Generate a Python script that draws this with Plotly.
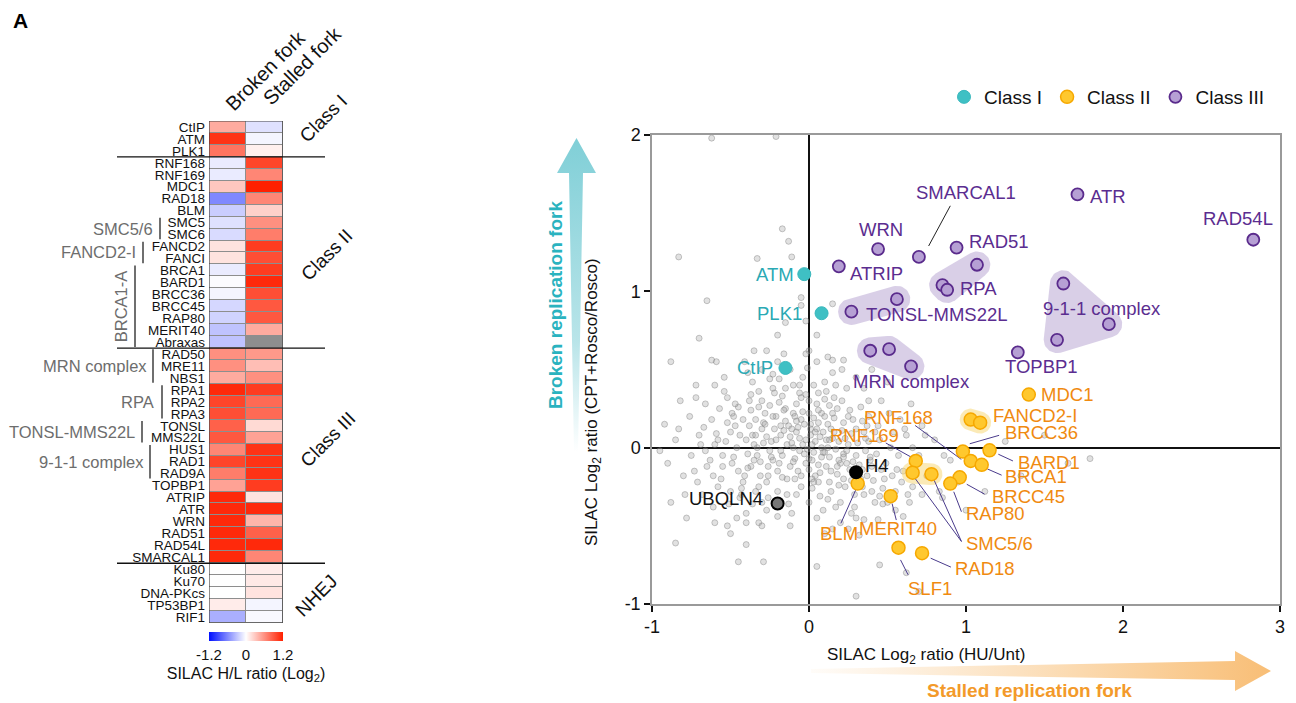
import numpy as np
import plotly.graph_objects as go

# page body has an 8px margin: figure is drawn at (8,8); positions below are given in
# window pixels and converted with px()/py()
OFF = 8
WF, HF = 1296 - OFF, 703 - OFF
FONT = "Arial, 'Liberation Sans', sans-serif"


def px(x):
    return (x - OFF) / WF


def py(y):
    return 1 - (y - OFF) / HF


# ---------------- Heatmap data (SILAC H/L ratio, log2) ----------------
hm_rows = ["CtIP", "ATM", "PLK1",
           "RNF168", "RNF169", "MDC1", "RAD18", "BLM", "SMC5", "SMC6", "FANCD2", "FANCI",
           "BRCA1", "BARD1", "BRCC36", "BRCC45", "RAP80", "MERIT40", "Abraxas",
           "RAD50", "MRE11", "NBS1", "RPA1", "RPA2", "RPA3", "TONSL", "MMS22L", "HUS1",
           "RAD1", "RAD9A", "TOPBP1", "ATRIP", "ATR", "WRN", "RAD51", "RAD54L", "SMARCAL1",
           "Ku80", "Ku70", "DNA-PKcs", "TP53BP1", "RIF1"]
hm_broken = [0.45, 1.10, 0.75,
             -0.10, -0.10, 0.30, -0.60, -0.25, -0.15, -0.18, 0.15, 0.15,
             -0.10, -0.02, -0.05, -0.20, -0.22, -0.30, -0.30,
             0.60, 0.60, 0.45, 1.15, 1.00, 0.95, 0.85, 0.90, 0.65,
             1.00, 0.70, 0.50, 1.15, 1.15, 1.15, 1.15, 1.15, 1.15,
             0.00, 0.00, 0.00, 0.10, -0.40]
hm_stalled = [-0.15, -0.05, 0.08,
              1.00, 0.65, 1.20, 0.65, 0.25, 0.60, 0.70, 1.05, 0.95,
              1.05, 1.15, 0.95, 0.90, 0.90, 0.45, None,
              0.55, 0.35, 0.60, 1.05, 0.80, 0.80, 0.20, 0.50, 1.10,
              1.10, 1.10, 1.05, 0.15, 1.15, 0.40, 0.85, 1.15, 0.65,
              0.10, 0.12, 0.15, -0.05, -0.03]
hm_cols = ["Broken fork", "Stalled fork"]
hm_classes = ["Class I", "Class II", "Class III", "NHEJ"]
hm_class_bounds = [2.5, 18.5, 36.5]
hm_brackets = [("SMC5/6", "SMC5", "SMC6"), ("FANCD2-I", "FANCD2", "FANCI"),
               ("BRCA1-A", "BRCA1", "Abraxas"), ("MRN complex", "RAD50", "NBS1"),
               ("RPA", "RPA1", "RPA3"), ("TONSL-MMS22L", "TONSL", "MMS22L"),
               ("9-1-1 complex", "HUS1", "RAD9A")]

# ---------------- Scatter data (SILAC log2 ratios) ----------------
c1_names = ["ATM", "PLK1", "CtIP"]
c1_x = [-0.03, 0.08, -0.15]
c1_y = [1.11, 0.86, 0.51]

c2_names = ["MDC1", "FANCD2", "FANCI", "BRCC36", "BARD1", "RNF168", "BRCA1", "RNF169",
            "SMC5", "SMC6", "BRCC45", "RAP80", "BLM", "MERIT40", "SLF1", "RAD18"]
c2_x = [1.40, 1.03, 1.09, 0.98, 1.15, 1.03, 1.10, 0.68, 0.66, 0.78, 0.96, 0.90, 0.31, 0.52, 0.57, 0.72]
c2_y = [0.34, 0.18, 0.16, -0.025, -0.017, -0.085, -0.11, -0.085, -0.16, -0.17, -0.19, -0.23,
        -0.23, -0.31, -0.64, -0.675]

c3_names = ["ATR", "RAD54L", "WRN", "SMARCAL1", "RAD51", "ATRIP", "RPA1", "RPA2", "RPA3",
            "TONSL", "MMS22L", "HUS1", "RAD1", "RAD9A", "TOPBP1", "RAD50", "MRE11", "NBS1"]
c3_x = [1.71, 2.83, 0.44, 0.70, 0.94, 0.19, 1.07, 0.85, 0.88, 0.56, 0.27, 1.62, 1.91, 1.58, 1.33, 0.39, 0.51, 0.65]
c3_y = [1.62, 1.33, 1.27, 1.22, 1.28, 1.16, 1.17, 1.04, 1.01, 0.95, 0.87, 1.05, 0.79, 0.69, 0.61, 0.62, 0.63, 0.52]

ctrl_names = ["H4", "UBQLN4"]
ctrl_x = [0.30, -0.20]
ctrl_y = [-0.157, -0.357]

purple_groups = [["RPA1", "RPA2", "RPA3"], ["TONSL", "MMS22L"], ["HUS1", "RAD1", "RAD9A"],
                 ["RAD50", "MRE11", "NBS1"]]
yellow_groups = [["FANCD2", "FANCI"], ["SMC5", "SMC6"]]

# background proteome (approximate cloud)
bg_x = [-0.02, 0.05, -0.10, 0.10, -0.18, 0.02, -0.05, 0.15, -0.25, 0.08, -0.12, 0.20, -0.30, 0.00, -0.08,
        0.12, -0.20, 0.25, -0.35, 0.04, -0.15, 0.18, -0.40, 0.30, -0.28, 0.06, -0.05, 0.22, -0.45, 0.35,
        -0.22, 0.14, -0.32, 0.28, -0.50, 0.40, -0.10, 0.10, -0.38, 0.45, -0.55, 0.02, -0.03, 0.07, -0.13,
        0.17, -0.07, 0.11, -0.24, 0.03, -0.17, 0.21, -0.33, 0.26, -0.42, 0.33, -0.60, 0.48, -0.26, 0.16,
        -0.48, 0.38, -0.65, 0.52, -0.12, 0.00, -0.36, 0.24, -0.58, 0.55, -0.20, 0.09, -0.70, 0.60, -0.30,
        0.30, -0.75, 0.42, -0.52, 0.05, -0.62, 0.62, -0.80, 0.34, -0.44, 0.20, -0.16, -0.04, -0.68, 0.66,
        -0.85, 0.70, -0.27, 0.12, -0.54, 0.46, -0.90, 0.75, -0.40, 0.27, -0.08, 0.19, -0.29, 0.13, -0.37,
        0.36, -0.46, -0.14, 0.01, -0.21, -0.09, 0.08, -0.31, 0.23, -0.49, 0.44, -0.57, 0.58, -0.19, 0.06,
        -0.01, 0.04, -0.06, 0.09, -0.11, 0.13, -0.16, 0.16, -0.23, 0.06, -0.04, 0.22, -0.27, 0.00, -0.19,
        0.27, -0.34, 0.10, -0.09, 0.18, -0.39, 0.31, -0.25, 0.03, -0.14, 0.29, -0.47, 0.39, -0.32, 0.21,
        -0.43, 0.12, -0.53, 0.49, -0.06, 0.15, -0.36, 0.37, -0.61, 0.57, -0.23, -0.01, -0.51, 0.47, -0.66,
        0.51, -0.73, 0.64, -0.41, 0.35,
        -0.44, -0.38, -0.33, -0.29, -0.26, -0.22, -0.18, -0.15, -0.12, -0.10,
        -0.07, -0.04, -0.02, 0.01, 0.03, 0.06, 0.08, 0.11, 0.14, 0.16,
        0.19, 0.22, 0.24, 0.27, 0.30, 0.32, 0.35, 0.38, 0.41, 0.43,
        -0.48, -0.52, -0.56, -0.59, -0.63, -0.67, -0.71, -0.45, -0.41, -0.37,
        -0.34, -0.30, -0.27, -0.23, -0.20, -0.17, -0.13, -0.10, -0.08, -0.05,
        0.00, 0.02, 0.05, 0.07, 0.10, 0.13, 0.17, 0.20, 0.26, 0.29,
        0.34, 0.40, 0.46, 0.50, 0.54, 0.59, -0.50, -0.54, -0.61, -0.69,
        -0.76, -0.79, -0.83, -0.46, -0.32, -0.12, 0.15, 0.32, 0.44, 0.60,
        -0.39, -0.20, 0.00, 0.21, 0.38, 0.66, 0.72, 0.80, 0.86, 0.95,
        -0.35, -0.31, -0.28, -0.24, -0.21, -0.17, -0.14, -0.11, -0.06, -0.03,
        0.00, 0.04, 0.07, 0.12, 0.15, 0.18, 0.23, 0.28, 0.33, 0.37,
        -0.42, -0.39, -0.36, -0.32, -0.27, -0.23, -0.19, -0.15, -0.09, -0.05,
        -0.02, 0.02, 0.06, 0.09, 0.14, 0.19, 0.25, 0.31, 0.39, 0.45,
        -0.58, -0.49, -0.43, -0.37, -0.30, -0.25, -0.18, -0.11, -0.06, 0.01,
        0.05, 0.11, 0.17, 0.24, 0.30, 0.36, 0.42, 0.53, 0.61, 0.68,
        -0.66, -0.55, -0.47, -0.40, -0.34, -0.26, -0.16, -0.08, 0.03, 0.13,
        0.22, 0.34, 0.47, 0.56, -0.72, -0.60, -0.52, 0.63, 0.74, 0.83,
        -0.62, -0.21, -0.17, -0.13, -0.83, -0.33, -0.11, -0.65, -0.05, -0.05, 0.15, -0.02, -0.35, -0.62,
        -0.59, -0.02, 0.15, 0.22, -0.85, -0.45, -0.29, 0.05, 0.30, 1.79,
        -0.95, -0.92, -0.88, -0.82, -0.78, -0.72, -0.60, -0.50, -0.40, -0.30, -0.20, -0.15, 0.05, 0.10,
        0.25, 0.35, 0.40, 0.50, 0.55, 0.65, 0.72, 0.80, 0.85, 0.90, 1.00, 1.12, 1.25, 1.35, 1.50, 1.65,
        0.70, 0.62, 0.45, -0.70, -0.88]
bg_y = [0.05, 0.12, 0.00, -0.03, 0.08, -0.08, 0.18, 0.06, -0.02, 0.22, -0.12, -0.10, 0.12, 0.30, 0.10,
        0.15, -0.15, 0.02, -0.08, -0.18, 0.25, 0.25, 0.05, -0.05, 0.22, 0.35, -0.25, -0.20, -0.15, 0.10,
        0.35, -0.28, -0.25, 0.18, 0.10, -0.12, 0.40, 0.42, 0.30, 0.05, -0.05, 0.02, -0.04, 0.07, 0.14,
        -0.01, -0.15, -0.12, 0.04, 0.19, -0.05, 0.11, 0.00, -0.14, -0.22, 0.26, 0.02, -0.20, -0.32, 0.32,
        0.20, 0.20, -0.12, 0.00, 0.50, -0.35, 0.42, 0.38, -0.25, -0.28, -0.28, -0.40, 0.08, -0.15, 0.50,
        0.45, -0.05, -0.35, 0.32, 0.55, 0.18, 0.08, -0.18, -0.25, -0.32, -0.35, 0.60, 0.45, -0.30, -0.25,
        0.05, -0.05, 0.62, 0.58, 0.45, 0.30, -0.10, -0.18, -0.42, -0.42, 0.28, 0.04, 0.16, 0.27, -0.12,
        -0.02, 0.00, -0.20, 0.12, 0.20, -0.07, 0.00, -0.18, -0.25, -0.10, 0.14, 0.25, 0.18, 0.44, -0.22,
        -0.01, 0.04, 0.06, 0.10, 0.03, -0.06, 0.11, 0.19, -0.08, -0.11, 0.23, -0.04, 0.07, -0.14, 0.29,
        0.09, 0.18, 0.31, -0.20, -0.17, -0.04, 0.03, 0.27, 0.40, -0.30, -0.30, 0.14, -0.08, 0.36, 0.30,
        -0.26, -0.33, 0.04, -0.10, 0.35, 0.48, -0.36, -0.18, -0.18, -0.05, 0.47, 0.51, -0.36, -0.26, 0.28,
        0.22, -0.15, -0.35, 0.55, 0.38,
        0.08, 0.14, -0.05, 0.03, -0.12, 0.12, -0.02, 0.17, 0.07, -0.09,
        0.13, 0.02, -0.10, 0.08, -0.03, 0.16, -0.06, 0.05, -0.15, 0.10,
        -0.08, 0.16, -0.02, -0.21, 0.12, -0.11, -0.30, 0.04, -0.21, -0.04,
        -0.06, 0.16, -0.20, 0.09, -0.08, 0.13, -0.22, 0.26, -0.18, 0.24,
        -0.28, 0.30, -0.40, 0.38, -0.44, 0.33, -0.36, 0.22, -0.30, 0.32,
        0.22, -0.26, 0.28, -0.31, 0.20, -0.22, 0.40, -0.48, 0.24, -0.38,
        0.17, -0.28, -0.14, -0.35, 0.10, -0.22, -0.28, 0.36, -0.38, 0.02,
        0.20, -0.30, 0.12, -0.45, -0.48, -0.50, -0.52, -0.56, -0.46, -0.44,
        0.48, 0.55, 0.62, 0.50, 0.30, 0.00, -0.30, -0.18, -0.05, -0.22,
        0.02, -0.09, 0.15, -0.06, 0.05, -0.19, 0.02, 0.12, -0.02, 0.15,
        -0.07, 0.10, -0.16, 0.00, 0.22, -0.12, 0.06, -0.09, -0.20, 0.14,
        0.18, -0.13, 0.08, 0.26, -0.22, 0.20, -0.10, 0.38, 0.20, -0.18,
        0.34, -0.20, 0.24, -0.03, 0.12, -0.24, 0.20, -0.16, -0.06, -0.31,
        0.05, 0.22, -0.30, 0.34, -0.35, 0.44, 0.14, -0.42, 0.40, 0.15,
        -0.45, 0.36, -0.38, -0.10, -0.45, 0.06, 0.10, -0.18, 0.12, -0.10,
        -0.02, -0.12, 0.28, -0.48, 0.08, -0.18, 0.24, 0.17, -0.22, 0.05,
        -0.06, -0.14, -0.36, -0.14, 0.32, 0.40, -0.50, -0.30, 0.08, -0.28,
        1.98, 1.99, 1.40, 1.32, 1.22, 1.21, 1.22, 0.94, 0.96, 0.91, 0.92, 0.81, 0.62, 0.56,
        0.55, 0.60, 0.56, 0.56, -0.61, -0.73, -0.73, -0.76, -0.95, -0.07,
        -0.02, 0.15, -0.35, 0.30, -0.45, 0.40, -0.48, -0.55, -0.62, -0.50, 0.72, 0.80, 0.72, -0.55,
        -0.52, -0.46, 0.50, 0.42, -0.40, 0.28, 0.14, 0.05, -0.32, -0.08, -0.40, -0.28, 0.04, -0.18, 0.08, -0.10,
        -0.92, -0.80, -0.75, 0.70, 0.55]

# ---------------- label placement (layout) ----------------
P, O, T, K = "#5b2d90", "#f08a10", "#2aa9b4", "#111111"
labels = [("SMARCAL1", 0.997, 1.632, "center", P), ("ATR", 1.778, 1.604, "left", P),
          ("RAD54L", 2.735, 1.468, "center", P), ("WRN", 0.457, 1.394, "center", P),
          ("RAD51", 1.005, 1.32, "left", P), ("ATRIP", 0.249, 1.115, "left", P),
          ("RPA", 0.952, 1.015, "left", P), ("TONSL-MMS22L", 0.35, 0.855, "left", P),
          ("9-1-1 complex", 1.866, 0.891, "center", P), ("TOPBP1", 1.479, 0.52, "center", P),
          ("MRN complex", 0.65, 0.425, "center", P),
          ("ATM", -0.085, 1.106, "right", T), ("PLK1", -0.03, 0.86, "right", T),
          ("CtIP", -0.215, 0.51, "right", T),
          ("MDC1", 1.465, 0.34, "left", O), ("FANCD2-I", 1.158, 0.206, "left", O),
          ("BRCC36", 1.238, 0.096, "left", O), ("RNF168", 0.57, 0.19, "center", O),
          ("RNF169", 0.356, 0.079, "center", O), ("BARD1", 1.318, -0.098, "left", O),
          ("BRCA1", 1.238, -0.187, "left", O), ("BRCC45", 1.152, -0.31, "left", O),
          ("RAP80", 0.99, -0.42, "left", O), ("SMC5/6", 0.99, -0.614, "left", O),
          ("BLM", 0.19, -0.552, "center", O), ("MERIT40", 0.57, -0.516, "center", O),
          ("RAD18", 0.917, -0.77, "left", O), ("SLF1", 0.77, -0.90, "center", O),
          ("H4", 0.342, -0.117, "left", K), ("UBQLN4", -0.278, -0.325, "right", K)]
connectors = [(0.489, 0.030, 0.65, -0.06), (0.676, 0.142, 0.97, -0.075), (1.024, 0.025, 1.211, 0.079),
              (1.206, -0.042, 1.299, -0.085), (1.136, -0.136, 1.227, -0.176),
              (1.005, -0.234, 1.118, -0.297), (0.922, -0.282, 0.971, -0.41),
              (0.676, -0.197, 0.971, -0.60), (0.797, -0.208, 0.971, -0.60),
              (0.297, -0.272, 0.203, -0.484), (0.529, -0.357, 0.556, -0.463),
              (0.583, -0.718, 0.631, -0.813), (0.775, -0.707, 0.904, -0.764)]
smarcal_connector = (0.90, 1.547, 0.762, 1.29)


def blob(xs, ys, r, n=48):
    t = np.linspace(0, 2 * np.pi, n, endpoint=False)
    pts = set()
    for x, y in zip(xs, ys):
        for a in t:
            pts.add((round(x + r * np.cos(a), 5), round(y + r * np.sin(a), 5)))
    pts = sorted(pts)

    def cross(o, a, b):
        return (a[0] - o[0]) * (b[1] - o[1]) - (a[1] - o[1]) * (b[0] - o[0])
    lower, upper = [], []
    for p in pts:
        while len(lower) >= 2 and cross(lower[-2], lower[-1], p) <= 0:
            lower.pop()
        lower.append(p)
    for p in reversed(pts):
        while len(upper) >= 2 and cross(upper[-2], upper[-1], p) <= 0:
            upper.pop()
        upper.append(p)
    hull = lower[:-1] + upper[:-1]
    hull.append(hull[0])
    return [p[0] for p in hull], [p[1] for p in hull]


fig = go.Figure()

fig.add_trace(go.Scatter(x=bg_x, y=bg_y, mode="markers", showlegend=False, hoverinfo="skip",
                         marker=dict(size=6, color="rgba(165,165,165,0.33)",
                                     line=dict(color="rgba(120,120,120,0.50)", width=0.8))))

for grp in purple_groups:
    xs = [c3_x[c3_names.index(n)] for n in grp]
    ys = [c3_y[c3_names.index(n)] for n in grp]
    bx, by = blob(xs, ys, 0.085)
    fig.add_trace(go.Scatter(x=bx, y=by, mode="lines", fill="toself", line=dict(width=0),
                             fillcolor="rgba(180,160,208,0.50)", showlegend=False, hoverinfo="skip"))
for grp in yellow_groups:
    xs = [c2_x[c2_names.index(n)] for n in grp]
    ys = [c2_y[c2_names.index(n)] for n in grp]
    bx, by = blob(xs, ys, 0.07)
    fig.add_trace(go.Scatter(x=bx, y=by, mode="lines", fill="toself", line=dict(width=0),
                             fillcolor="rgba(248,214,110,0.50)", showlegend=False, hoverinfo="skip"))

cx, cy = [], []
for x0, y0, x1, y1 in connectors:
    cx += [x0, x1, None]
    cy += [y0, y1, None]
fig.add_trace(go.Scatter(x=cx, y=cy, mode="lines", line=dict(color="#4a3b8c", width=1),
                         showlegend=False, hoverinfo="skip"))
fig.add_trace(go.Scatter(x=[smarcal_connector[0], smarcal_connector[2]],
                         y=[smarcal_connector[1], smarcal_connector[3]], mode="lines",
                         line=dict(color="#222", width=1), showlegend=False, hoverinfo="skip"))

fig.add_trace(go.Scatter(x=c1_x, y=c1_y, mode="markers", name="Class I", text=c1_names,
                         marker=dict(size=13, color="#3fc0c4", line=dict(color="#3ab8bd", width=1))))
fig.add_trace(go.Scatter(x=c2_x, y=c2_y, mode="markers", name="Class II", text=c2_names,
                         marker=dict(size=13, color="#ffc82e", line=dict(color="#f6a800", width=1.5))))
fig.add_trace(go.Scatter(x=c3_x, y=c3_y, mode="markers", name="Class III", text=c3_names,
                         marker=dict(size=12, color="#b6a0d4", line=dict(color="#5a2b8c", width=1.8))))
fig.add_trace(go.Scatter(x=ctrl_x, y=ctrl_y, mode="markers", showlegend=False, text=ctrl_names,
                         marker=dict(size=12, color=["#000000", "#777777"],
                                     line=dict(color="#000000", width=2))))

for txt, x, y, anc, col in labels:
    fig.add_annotation(x=x, y=y, xref="x", yref="y", text=txt, showarrow=False, xanchor=anc,
                       yanchor="middle", font=dict(size=18.5, color=col, family=FONT))

# ---------------- heatmap ----------------
z = [[b, s] for b, s in zip(hm_broken, hm_stalled)]
nrows = len(hm_rows)
fig.add_trace(go.Heatmap(
    z=z, x=[0, 1], y=list(range(nrows)), xaxis="x2", yaxis="y2", zmin=-1.2, zmax=1.2,
    colorscale=[[0, "#0010ff"], [0.5, "#ffffff"], [1, "#ff2000"]], xgap=1, ygap=1,
    hoverinfo="skip",
    colorbar=dict(orientation="h", x=px(246), xanchor="center", y=py(632), yanchor="top",
                  xpad=0, ypad=0, len=74, lenmode="pixels", thickness=9, tickvals=[-1.2, 0, 1.2],
                  ticktext=["-1.2", "0", "1.2"], ticks="", outlinewidth=0,
                  tickfont=dict(size=15, family=FONT, color="#111"),
                  title=dict(text="SILAC H/L ratio (Log<sub>2</sub>)", side="bottom",
                             font=dict(size=16, family=FONT, color="#111")))))

shapes = []
shapes.append(dict(type="rect", xref="x2", yref="y2", x0=-0.5, x1=1.5, y0=-0.5, y1=nrows - 0.5,
                   fillcolor="#8e8e8e", line=dict(width=0), layer="below"))
shapes.append(dict(type="rect", xref="x2", yref="y2", x0=-0.5, x1=1.5, y0=-0.5, y1=nrows - 0.5,
                   line=dict(color="#444", width=1.2), layer="above"))
for b in hm_class_bounds:
    shapes.append(dict(type="line", xref="paper", yref="y2", x0=px(117), x1=px(325), y0=b, y1=b,
                       line=dict(color="#111", width=1.3)))

bracket_line_x = [160, 143, 135, 153, 162, 142, 150]
bracket_label_x = [155, 138, 121, 149, 156, 137, 146]
for (lab, r0, r1), lx, tx in zip(hm_brackets, bracket_line_x, bracket_label_x):
    i0, i1 = hm_rows.index(r0), hm_rows.index(r1)
    shapes.append(dict(type="line", xref="paper", yref="y2", x0=px(lx), x1=px(lx),
                       y0=i0 - 0.4, y1=i1 + 0.4, line=dict(color="#6f6f6f", width=2)))
    if lab == "BRCA1-A":
        fig.add_annotation(x=px(tx), y=(i0 + i1) / 2, xref="paper", yref="y2", text=lab,
                           showarrow=False, textangle=-90, xanchor="center", yanchor="middle",
                           font=dict(size=16.5, color="#6d6d6d", family=FONT))
    else:
        fig.add_annotation(x=px(tx), y=(i0 + i1) / 2, xref="paper", yref="y2", text=lab,
                           showarrow=False, xanchor="right", yanchor="middle",
                           font=dict(size=16.5, color="#6d6d6d", family=FONT))

class_pos = [(323, 118), (326, 255), (328, 440), (316, 595)]
for lab, (cxp, cyp) in zip(hm_classes, class_pos):
    fig.add_annotation(x=px(cxp), y=py(cyp), xref="paper", yref="paper", text=lab,
                       showarrow=False, textangle=-45, xanchor="center", yanchor="middle",
                       font=dict(size=19, color="#111", family=FONT))
col_pos = [(265, 71), (302, 66)]
for lab, (cxp, cyp) in zip(hm_cols, col_pos):
    fig.add_annotation(x=px(cxp), y=py(cyp), xref="paper", yref="paper", text=lab,
                       showarrow=False, textangle=-45, xanchor="center", yanchor="middle",
                       font=dict(size=20, color="#111", family=FONT))

fig.add_annotation(x=px(20), y=py(21), xref="paper", yref="paper", text="<b>A</b>",
                   showarrow=False, xanchor="center", yanchor="middle",
                   font=dict(size=21, color="#000", family=FONT))

# ---------------- arrows (overlay axis in window pixel units) ----------------
teal_arrow = [(574, 452), (569, 173), (557, 173), (576.5, 138), (596, 173), (583, 173), (578, 452), (574, 452)]
orange_arrow = [(811, 669), (1235, 661), (1235, 651), (1271, 671), (1235, 691), (1235, 680), (811, 673), (811, 669)]
fig.add_trace(go.Scatter(x=[p[0] for p in teal_arrow], y=[703 - p[1] for p in teal_arrow],
                         xaxis="x3", yaxis="y3", mode="lines", line=dict(width=0), fill="toself",
                         fillgradient=dict(type="vertical", colorscale=[[0, "rgba(128,207,215,0)"],
                                                                         [0.35, "rgba(128,207,215,0.55)"],
                                                                         [1, "rgba(128,207,215,1)"]]),
                         showlegend=False, hoverinfo="skip"))
fig.add_trace(go.Scatter(x=[p[0] for p in orange_arrow], y=[703 - p[1] for p in orange_arrow],
                         xaxis="x3", yaxis="y3", mode="lines", line=dict(width=0), fill="toself",
                         fillgradient=dict(type="horizontal", colorscale=[[0, "rgba(249,196,128,0.05)"],
                                                                           [1, "rgba(248,190,118,1)"]]),
                         showlegend=False, hoverinfo="skip"))

fig.add_annotation(x=px(593), y=py(402), xref="paper", yref="paper",
                   text="SILAC Log<sub>2</sub> ratio (CPT+Rosco/Rosco)", textangle=-90, showarrow=False,
                   xanchor="center", yanchor="middle", font=dict(size=17, color="#111", family=FONT))
fig.add_annotation(x=px(555), y=py(305), xref="paper", yref="paper",
                   text="<b>Broken replication fork</b>", textangle=-90, showarrow=False,
                   xanchor="center", yanchor="middle", font=dict(size=19, color="#2ab3bf", family=FONT))
fig.add_annotation(x=px(926), y=py(656), xref="paper", yref="paper",
                   text="SILAC Log<sub>2</sub> ratio (HU/Unt)", showarrow=False,
                   xanchor="center", yanchor="middle", font=dict(size=17, color="#111", family=FONT))
fig.add_annotation(x=px(1029), y=py(690), xref="paper", yref="paper",
                   text="<b>Stalled replication fork</b>", showarrow=False,
                   xanchor="center", yanchor="middle", font=dict(size=19, color="#f39a2a", family=FONT))

axis_common = dict(showgrid=False, showline=True, mirror=True, linecolor="#9a9a9a", linewidth=1.5,
                   ticks="outside", ticklen=6, tickwidth=1.5, tickcolor="#111",
                   zeroline=True, zerolinecolor="#111", zerolinewidth=1.5,
                   tickfont=dict(size=18, color="#111", family=FONT))

fig.update_layout(
    width=WF, height=HF, margin=dict(l=0, r=0, t=0, b=0, autoexpand=False),
    paper_bgcolor="white", plot_bgcolor="rgba(0,0,0,0)",
    font=dict(family=FONT, color="#111"),
    xaxis=dict(domain=[px(652), px(1280)], range=[-1, 3], tickvals=[-1, 0, 1, 2, 3],
               ticktext=["-1", "0", "1", "2", "3"], anchor="y", **axis_common),
    yaxis=dict(domain=[py(604), py(135)], range=[-1, 2], tickvals=[-1, 0, 1, 2],
               ticktext=["-1", "0", "1", "2"], anchor="x", **axis_common),
    xaxis2=dict(domain=[px(209), px(283)], range=[-0.5, 1.5], anchor="y2", showgrid=False,
                zeroline=False, showticklabels=False, ticks="", showline=False),
    yaxis2=dict(domain=[py(623), py(121)], range=[nrows - 0.5, -0.5], anchor="x2", showgrid=False,
                zeroline=False, tickvals=list(range(nrows)), ticktext=hm_rows, ticks="",
                showline=False, ticklabelstandoff=3,
                tickfont=dict(size=13.5, color="#111", family=FONT)),
    xaxis3=dict(domain=[0, 1], range=[OFF, 1296], anchor="y3", visible=False, fixedrange=True),
    yaxis3=dict(domain=[0, 1], range=[0, HF], anchor="x3", visible=False, fixedrange=True),
    legend=dict(orientation="h", x=px(944), y=py(97), xanchor="left", yanchor="middle",
                font=dict(size=19, color="#111", family=FONT), itemwidth=30,
                bgcolor="rgba(0,0,0,0)"),
    shapes=shapes,
)

fig.write_html("out.html")
